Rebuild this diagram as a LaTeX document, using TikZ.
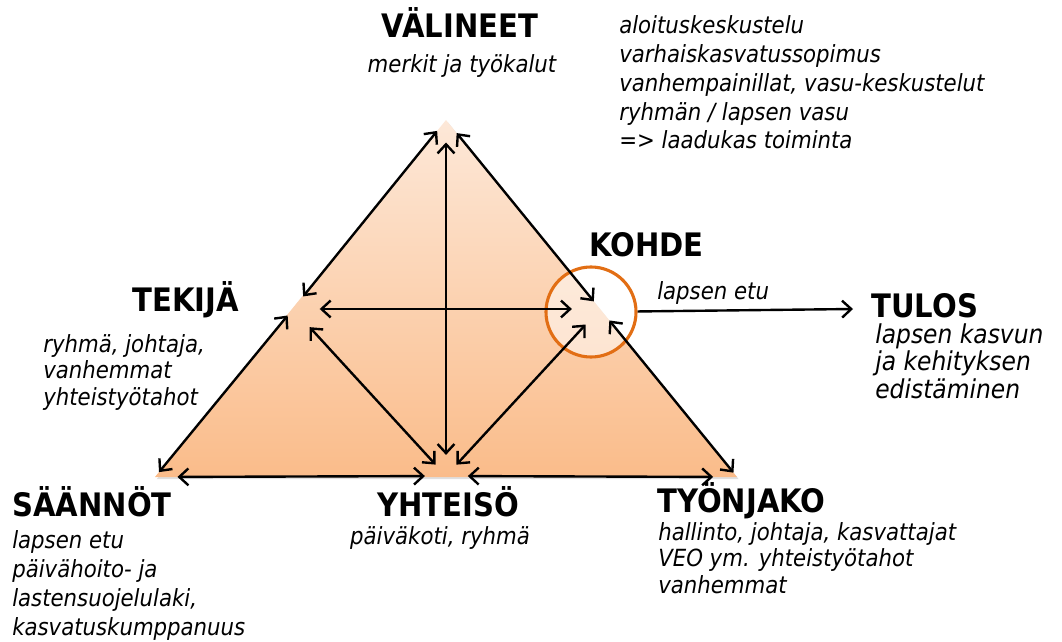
\documentclass[tikz,border=0pt]{standalone}
\usepackage{fontspec}
\setmainfont{DejaVu Sans}[FakeStretch=0.9]
\usepackage{tikz}
\usetikzlibrary{
  arrows.meta,
  shadows
}
\definecolor{tritop}{RGB}{253, 232, 216}
\definecolor{tribottom}{RGB}{250, 188, 138}
\definecolor{ringorange}{RGB}{226, 110, 20}
\tikzset{
  headlbl/.style = {
    font=\fontsize{23}{27}\selectfont\bfseries, inner sep=0pt
  },
  desclbl/.style = {
    font=\fontsize{16.8}{#1}\selectfont\itshape,
    align=left, inner sep=0pt
  },
  desclbl/.default = 20.6pt,
  ring/.style = {
    circle, draw=ringorange, line width=2.2pt,
    fill=white, fill opacity=0.5, minimum size=2.25cm
  },
  darr/.style = {{Straight Barb[length=6.5pt, width=12pt]}-{Straight Barb[length=6.5pt, width=12pt]},
    line width=1.7pt},
  arr/.style  = {-{Straight Barb[length=6.5pt, width=12pt]}, line width=1.7pt},
}

\begin{document}
\begin{tikzpicture}[x=0.025cm, y=-0.025cm]
  \useasboundingbox (0,0) rectangle (1062,642);

  %% corners of the triangle
  \coordinate (val) at (446,120);
  \coordinate (saa) at (155,477);
  \coordinate (tyo) at (737,477);
  \coordinate (tek) at (293,309);
  \coordinate (yht) at (446,476);
  \coordinate (koh) at (600,309);
  \coordinate (tulin) at (853,309);

  \path[drop shadow={shadow xshift=1.2pt, shadow yshift=-1.5pt, opacity=0.25},
        top color=tritop, bottom color=tribottom]
    (val) -- (saa) -- (tyo) -- cycle;

  \node[ring] (kohring) at (591,312) {};

  %% connectors
  \draw[darr, shorten <=4.5pt, shorten >=6pt]    (saa) -- (tek);
  \draw[darr, shorten <=10pt, shorten >=11.5pt]  (val) -- (tek);
  \draw[darr, shorten <=16pt, shorten >=15pt]    (val) -- (yht);
  \draw[darr, shorten <=12pt, shorten >=7pt]     (val) -- (koh);
  \draw[darr, shorten <=19pt, shorten >=20pt]    (tek) -- (koh);
  \draw[darr, shorten <=17.5pt, shorten >=11pt]  (tek) -- (yht);
  \draw[darr, shorten <=15pt, shorten >=11pt]    (koh) -- (yht);
  \draw[darr, shorten <=4pt, shorten >=10.5pt]   (tyo) -- (koh);
  \draw[darr, shorten <=16pt, shorten >=15pt]    (saa) -- (yht);
  \draw[darr, shorten <=15.5pt, shorten >=17pt]  (yht) -- (tyo);
  \draw[arr] (kohring) -- (tulin);

  %% labels (multi-line ones sit on the baseline of their last line)
  \node[headlbl, anchor=base] (valT) at (460,38) {VÄLINEET};
  \node[desclbl, anchor=base] (valD) at (462,73) {merkit ja työkalut};
  \node[desclbl=20.6pt, anchor=base west] (valX) at (619,149)
    {aloituskeskustelu\\varhaiskasvatussopimus\\vanhempainillat, vasu-keskustelut\\ryhmän / lapsen vasu\\=> laadukas toiminta};

  \node[headlbl, anchor=base west] (kohT) at (589,257) {KOHDE};
  \node[desclbl, anchor=base west] (kohD) at (657,300) {lapsen etu};

  \node[headlbl, anchor=base west] (tulT) at (871,317) {TULOS};
  \node[desclbl=19.5pt, anchor=base west, font=\fontsize{18.5}{19.5pt}\selectfont\itshape]
    (tulD) at (875,398) {lapsen kasvun\\ja kehityksen\\edistäminen};

  \node[headlbl, anchor=base west] (tekT) at (132,312) {TEKIJÄ};
  \node[desclbl=18.8pt, anchor=base west] (tekD) at (43,405)
    {ryhmä, johtaja,\\vanhemmat\\yhteistyötahot};

  \node[headlbl, anchor=base west] (saaT) at (12,516) {SÄÄNNÖT};
  \node[desclbl=20.6pt, anchor=base west] (saaD) at (12,635)
    {lapsen etu\\päivähoito- ja\\lastensuojelulaki,\\kasvatuskumppanuus};

  \node[headlbl, anchor=base] (yhtT) at (448,516) {YHTEISÖ};
  \node[desclbl, anchor=base] (yhtD) at (440,544) {päiväkoti, ryhmä};

  \node[headlbl, anchor=base west] (tyoT) at (657,512) {TYÖNJAKO};
  \node[desclbl=18.8pt, anchor=base west] (tyoD) at (658,593)
    {hallinto, johtaja, kasvattajat\\VEO ym. yhteistyötahot\\vanhemmat};

\end{tikzpicture}
\end{document}
